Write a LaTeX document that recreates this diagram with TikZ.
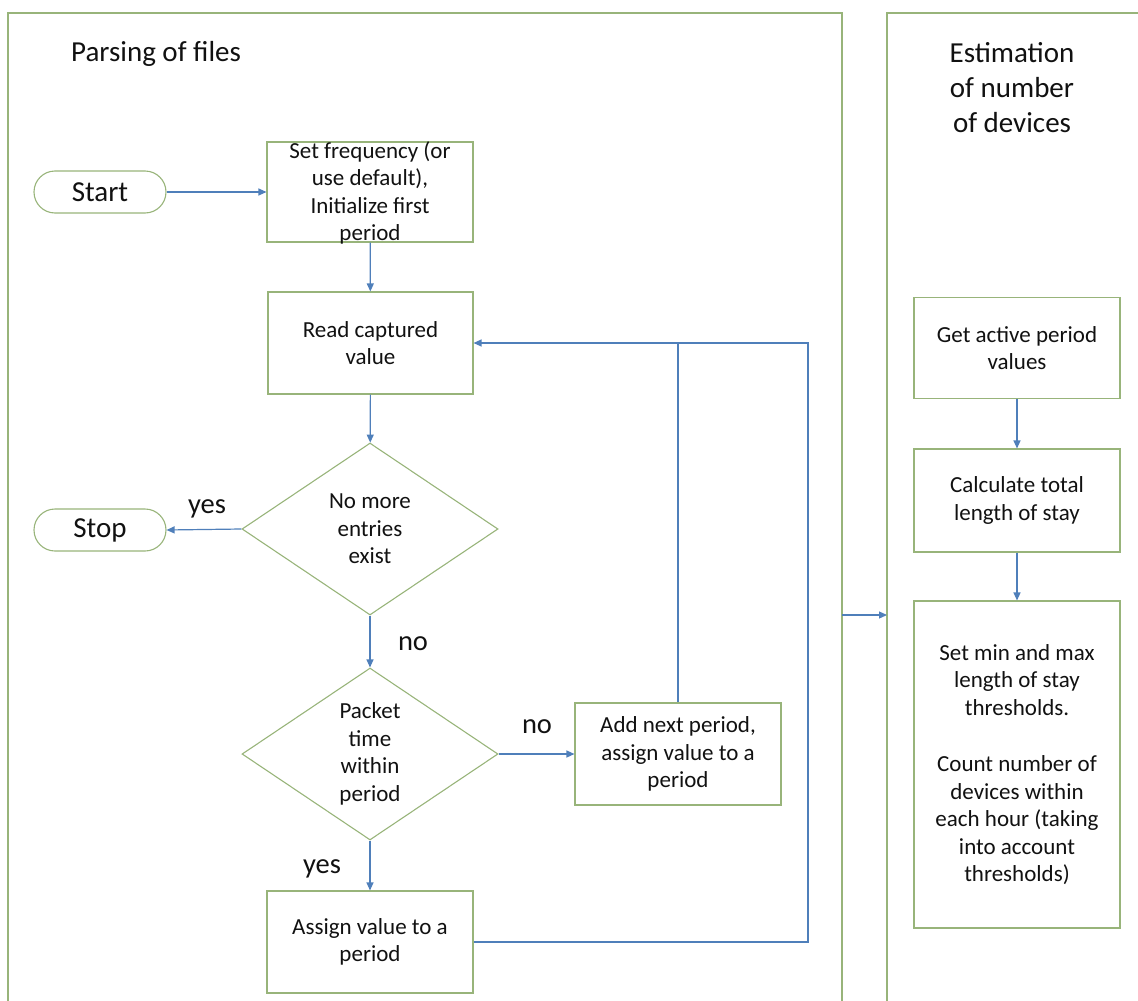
\documentclass[tikz,border=0pt]{standalone}
\usepackage{fontspec}
\setmainfont{Carlito}
\usetikzlibrary{shapes.geometric,arrows.meta}

\definecolor{boxgreen}{HTML}{98B47A}
\definecolor{flowblue}{HTML}{4F7FBA}
\definecolor{ink}{HTML}{111111}

\newcommand{\flowtextfont}{\fontsize{23}{27.5}\selectfont}
\newcommand{\flowtitlefont}{\fontsize{29}{35}\selectfont}
\newcommand{\flowlabelfont}{\fontsize{28.5}{34}\selectfont}

\begin{document}
\begin{tikzpicture}[x=1pt,y=-1pt,
  panel/.style={draw=boxgreen, line width=1.1pt},
  procbox/.style={draw=boxgreen, line width=1.1pt, rectangle, inner sep=0pt,
    align=center, text=ink, font=\flowtextfont},
  boxtext/.style={inner sep=0pt, align=center, text=ink, font=\flowtextfont},
  decision/.style={draw=boxgreen, line width=1.1pt, diamond, aspect=1.49,
    minimum width=256pt, minimum height=172pt, inner sep=0pt,
    align=center, text=ink, font=\flowtextfont},
  terminal/.style={draw=boxgreen, line width=1.1pt, rectangle, rounded corners=21pt,
    minimum width=132pt, minimum height=42pt, inner sep=0pt,
    text=ink, font=\flowtitlefont},
  title/.style={inner sep=0pt, align=center, text=ink, font=\flowtitlefont},
  branch/.style={inner sep=0pt, text=ink, font=\flowlabelfont, anchor=base},
  link/.style={draw=flowblue, line width=1.2pt},
  flow/.style={link, -{Triangle[length=8pt,width=7pt]}}]

\useasboundingbox (0,0) rectangle (1138,1001);

% open-bottom panels
\draw[panel] (8,1010) -- (8,13) -- (842,13) -- (842,1010);
\draw[panel] (887,1010) -- (887,13) -- (1145,13);

% panel titles
\node[title, anchor=base west] (parsetitle) at (71,61) {Parsing of files};
\node[title] (esttitle) at (1012,88) {Estimation\\of number\\of devices};

% parsing flow
\node[terminal] (start) at (100,192) {Start};
\node[procbox, minimum width=206pt, minimum height=100pt] (init) at (370,192) {};
\node[boxtext] (inittext) at (370,193) {Set frequency (or\\use default),\\Initialize first\\period};
\node[procbox, minimum width=205pt, minimum height=102pt] (read) at (370.5,343) {Read captured\\value};
\node[decision] (more) at (370,529) {No more\\entries\\exist};
\node[terminal] (stop) at (100,530) {Stop};
\node[decision] (within) at (370,754) {Packet\\time\\within\\period};
\node[procbox, minimum width=206pt, minimum height=102pt] (next) at (678,754) {Add next period,\\assign value to a\\period};
\node[procbox, minimum width=206pt, minimum height=102pt] (assign) at (370,942) {Assign value to a\\period};

% branch labels
\node[branch] (yesstop) at (207,513) {yes};
\node[branch] (nomore) at (413,650) {no};
\node[branch] (nonext) at (537,733) {no};
\node[branch] (yesassign) at (322,873) {yes};

% estimation flow
\node[procbox, minimum width=206pt, minimum height=101pt] (active) at (1017,348) {Get active period\\values};
\node[procbox, minimum width=206pt, minimum height=103pt] (total) at (1017,500.5) {Calculate total\\length of stay};
\node[procbox, minimum width=206pt, minimum height=327pt] (count) at (1017,764.5)
  {Set min and max\\length of stay\\thresholds.\\[29pt]Count number of\\devices within\\each hour (taking\\into account\\thresholds)};

% connectors
\draw[flow] (start) -- (init);
\draw[flow] (init) -- (read);
\draw[flow] (read) -- (more);
\draw[flow] (more.west) -- (stop.east);
\draw[flow] (more.south) -- (within.north);
\draw[flow] (within.east) -- (next.west);
\draw[flow] (within.south) -- (assign.north);

\coordinate (loopbottom) at (808,942);
\coordinate (looptop) at (808,343);
\draw[flow] (assign.east) -- (loopbottom) -- (looptop) -- (read.east);
\draw[link] (next.north) -- (next.north |- read.east);

\coordinate (parseedge) at (842,615);
\coordinate (estedge) at (887,615);
\draw[flow] (parseedge) -- (estedge);

\draw[flow] (active) -- (total);
\draw[flow] (total) -- (count);
\end{tikzpicture}
\end{document}
